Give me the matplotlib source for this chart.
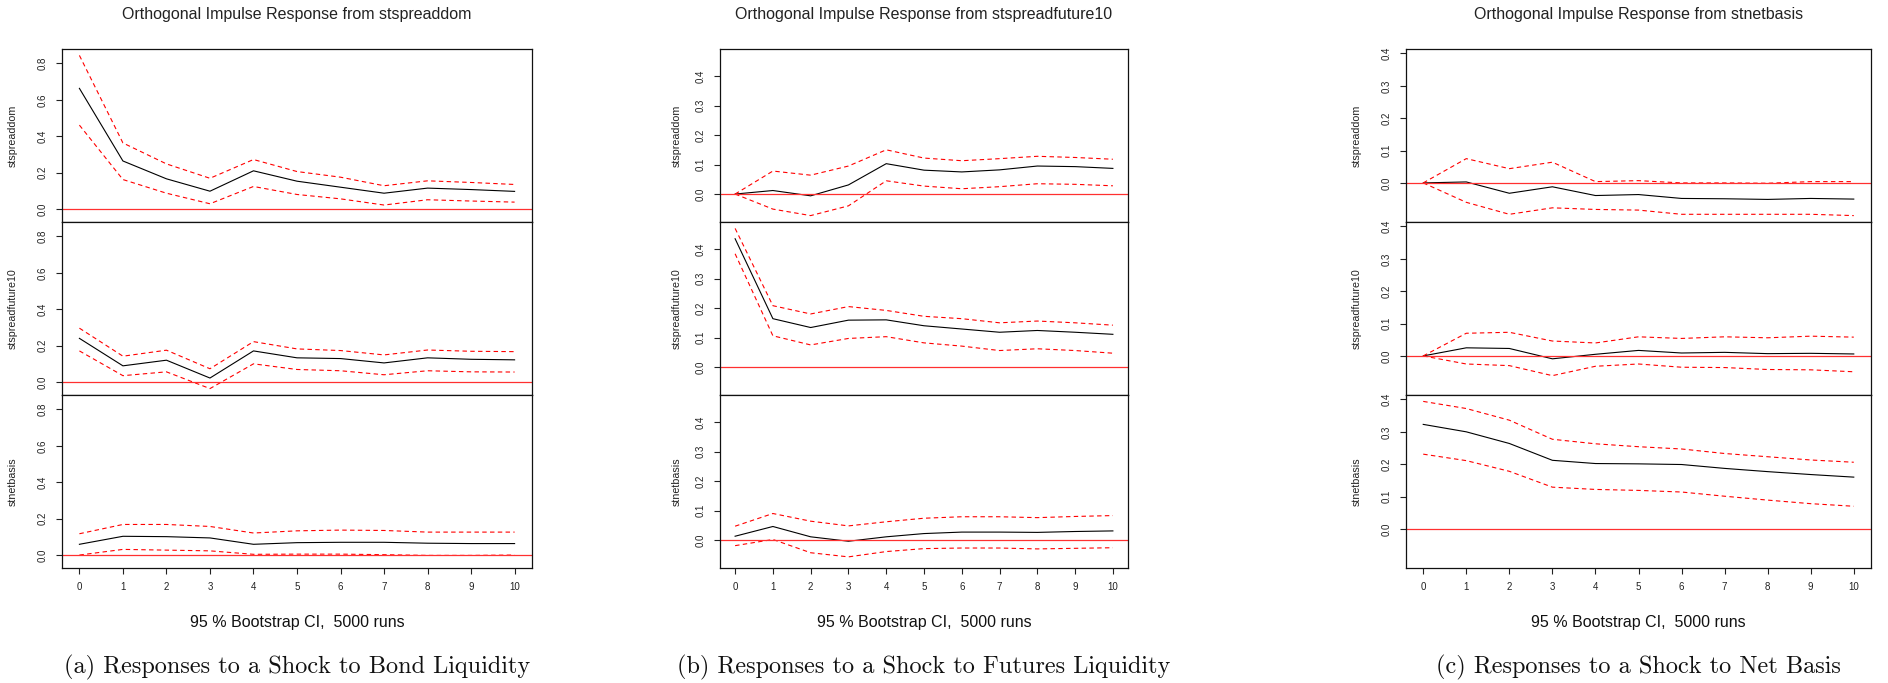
import numpy as np
import matplotlib
matplotlib.use("Agg")
import matplotlib.pyplot as plt

# forecast horizon
steps = list(range(11))
var_names = ["stspreaddom", "stspreadfuture10", "stnetbasis"]

# (a) shock to stspreaddom
a_dom = [0.663, 0.264, 0.166, 0.098, 0.210, 0.153, 0.120, 0.087, 0.115, 0.107, 0.097]
a_dom_hi = [0.844, 0.363, 0.248, 0.169, 0.272, 0.206, 0.175, 0.128, 0.155, 0.146, 0.135]
a_dom_lo = [0.461, 0.162, 0.087, 0.029, 0.124, 0.080, 0.056, 0.022, 0.051, 0.044, 0.038]
a_fut = [0.240, 0.089, 0.120, 0.022, 0.171, 0.133, 0.129, 0.105, 0.133, 0.125, 0.122]
a_fut_hi = [0.296, 0.142, 0.175, 0.073, 0.222, 0.182, 0.173, 0.149, 0.176, 0.169, 0.167]
a_fut_lo = [0.171, 0.035, 0.056, -0.036, 0.100, 0.069, 0.062, 0.040, 0.062, 0.056, 0.055]
a_basis = [0.059, 0.103, 0.101, 0.094, 0.059, 0.068, 0.070, 0.070, 0.065, 0.063, 0.063]
a_basis_hi = [0.117, 0.168, 0.168, 0.157, 0.121, 0.133, 0.137, 0.135, 0.126, 0.126, 0.126]
a_basis_lo = [0.000, 0.031, 0.027, 0.023, 0.004, 0.005, 0.005, 0.002, -0.002, -0.002, 0.000]

# (b) shock to stspreadfuture10
b_dom = [0.000, 0.012, -0.006, 0.031, 0.103, 0.081, 0.075, 0.082, 0.095, 0.093, 0.087]
b_dom_hi = [0.000, 0.078, 0.064, 0.095, 0.150, 0.122, 0.113, 0.120, 0.128, 0.124, 0.118]
b_dom_lo = [0.000, -0.051, -0.073, -0.040, 0.045, 0.027, 0.018, 0.025, 0.035, 0.033, 0.028]
b_fut = [0.435, 0.164, 0.134, 0.159, 0.160, 0.140, 0.129, 0.118, 0.124, 0.118, 0.111]
b_fut_hi = [0.470, 0.208, 0.180, 0.205, 0.192, 0.172, 0.164, 0.150, 0.156, 0.150, 0.142]
b_fut_lo = [0.384, 0.106, 0.075, 0.097, 0.103, 0.082, 0.071, 0.056, 0.062, 0.056, 0.047]
b_basis = [0.013, 0.046, 0.011, -0.004, 0.011, 0.022, 0.027, 0.027, 0.026, 0.029, 0.031]
b_basis_hi = [0.047, 0.090, 0.064, 0.048, 0.062, 0.074, 0.079, 0.079, 0.076, 0.080, 0.083]
b_basis_lo = [-0.019, 0.002, -0.043, -0.057, -0.039, -0.029, -0.027, -0.027, -0.030, -0.028, -0.026]

# (c) shock to stnetbasis
c_dom = [0.000, 0.003, -0.032, -0.012, -0.039, -0.036, -0.048, -0.049, -0.051, -0.048, -0.050]
c_dom_hi = [0.000, 0.075, 0.044, 0.064, 0.004, 0.007, 0.000, 0.000, -0.001, 0.004, 0.004]
c_dom_lo = [0.000, -0.060, -0.097, -0.077, -0.082, -0.084, -0.097, -0.097, -0.097, -0.097, -0.101]
c_fut = [0.000, 0.025, 0.023, -0.009, 0.005, 0.017, 0.009, 0.011, 0.007, 0.008, 0.006]
c_fut_hi = [0.000, 0.070, 0.073, 0.046, 0.040, 0.059, 0.054, 0.059, 0.056, 0.061, 0.058]
c_fut_lo = [0.000, -0.025, -0.030, -0.061, -0.032, -0.025, -0.035, -0.036, -0.042, -0.043, -0.049]
c_basis = [0.323, 0.300, 0.264, 0.212, 0.202, 0.201, 0.199, 0.187, 0.177, 0.168, 0.160]
c_basis_hi = [0.394, 0.372, 0.336, 0.277, 0.263, 0.254, 0.247, 0.233, 0.223, 0.213, 0.206]
c_basis_lo = [0.231, 0.211, 0.178, 0.129, 0.122, 0.119, 0.114, 0.101, 0.089, 0.078, 0.070]

impulses = ["stspreaddom", "stspreadfuture10", "stnetbasis"]
captions = ["(a) Responses to a Shock to Bond Liquidity",
            "(b) Responses to a Shock to Futures Liquidity",
            "(c) Responses to a Shock to Net Basis"]
yticks_a = [0.0, 0.2, 0.4, 0.6, 0.8]
yticks_bc = [0.0, 0.1, 0.2, 0.3, 0.4]

panels = [
    ([(a_dom, a_dom_lo, a_dom_hi), (a_fut, a_fut_lo, a_fut_hi), (a_basis, a_basis_lo, a_basis_hi)], yticks_a),
    ([(b_dom, b_dom_lo, b_dom_hi), (b_fut, b_fut_lo, b_fut_hi), (b_basis, b_basis_lo, b_basis_hi)], yticks_bc),
    ([(c_dom, c_dom_lo, c_dom_hi), (c_fut, c_fut_lo, c_fut_hi), (c_basis, c_basis_lo, c_basis_hi)], yticks_bc),
]

W, H = 1888, 683
fig = plt.figure(figsize=(W / 100, H / 100), dpi=100)
sans = ["Liberation Sans", "DejaVu Sans"]

# pixel layout of each panel: left, right, ylabel offset
lefts = [62, 720, 1406]
rights = [532, 1128, 1871]
ylab_off = [44, 38, 44]
top_px, sub_h = 49, 173

for p, (series, yt) in enumerate(panels):
    allv = np.concatenate([np.array(s) for trio in series for s in trio])
    lo, hi = allv.min(), allv.max()
    pad = 0.04 * (hi - lo)
    ylim = (lo - pad, hi + pad)
    wpx = rights[p] - lefts[p]
    for i, (resp, low, upp) in enumerate(series):
        b_px = top_px + sub_h * (i + 1)
        ax = fig.add_axes([lefts[p] / W, 1 - b_px / H, wpx / W, sub_h / H])
        ax.plot(steps, resp, color="black", lw=0.8)
        ax.plot(steps, upp, color="red", lw=0.8, ls=(0, (4, 3)))
        ax.plot(steps, low, color="red", lw=0.8, ls=(0, (4, 3)))
        ax.axhline(0, color="#ff3030", lw=0.9)
        ax.set_xlim(-0.4, 10.4)
        ax.set_ylim(*ylim)
        ax.set_yticks(yt)
        ax.set_yticklabels(["%.1f" % v for v in yt], family=sans, fontsize=7)
        for lbl in ax.get_yticklabels():
            lbl.set_rotation(90)
            lbl.set_va("center")
        ax.tick_params(axis="y", length=4, width=0.8, pad=6, colors="#222222")
        ax.set_ylabel(var_names[i], family=sans, fontsize=7.7, color="#222222")
        ax.yaxis.set_label_coords(-ylab_off[p] / wpx, 0.5)
        for sp in ax.spines.values():
            sp.set_linewidth(0.9)
            sp.set_color("#111111")
        if i < 2:
            ax.set_xticks([])
        else:
            ax.set_xticks(steps)
            ax.set_xticklabels([str(s) for s in steps], family=sans, fontsize=7)
            ax.tick_params(axis="x", length=4, width=0.8, pad=6, colors="#222222")
    cx = (lefts[p] + rights[p]) / 2 / W
    fig.text(cx, 1 - 15 / H, "Orthogonal Impulse Response from " + impulses[p],
             ha="center", va="center", family=sans, fontsize=11.5, color="#222222")
    fig.text(cx, 1 - 623 / H, "95 % Bootstrap CI,  5000 runs",
             ha="center", va="center", family=sans, fontsize=11.5, color="#111111")
    fig.text(cx, 1 - 667 / H, captions[p], ha="center", va="center",
             family="cmr10", fontsize=17.5, color="#111111")

fig.savefig("out.png", dpi=100)
